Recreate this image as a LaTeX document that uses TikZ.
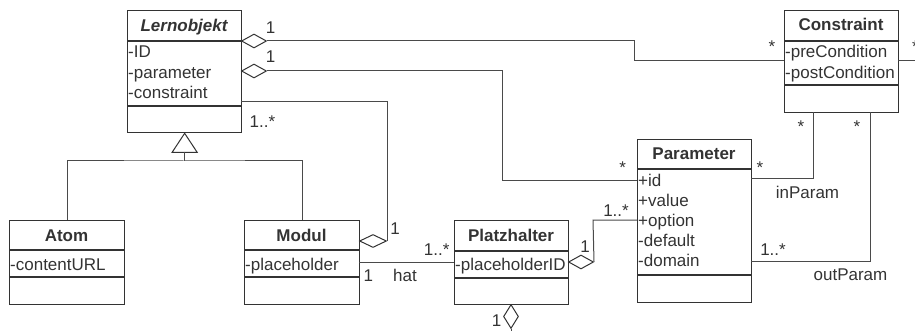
\documentclass[tikz,border=0pt]{standalone}
\usepackage{fontspec}
\setmainfont{Liberation Sans}
\usetikzlibrary{shapes.geometric}
\definecolor{ink}{HTML}{333333}
\definecolor{wire}{HTML}{4A4A4A}
\begin{document}
\begin{tikzpicture}[x=1pt,y=-1pt,
  font=\fontsize{17}{20}\selectfont, text=ink,
  classbox/.style={draw=ink, line width=1.3pt, rectangle, inner sep=0pt, anchor=north west},
  sepline/.style={draw=ink, line width=1.3pt},
  title/.style={font=\fontsize{17}{20}\selectfont\bfseries, anchor=base, inner sep=0pt},
  attr/.style={anchor=base west, inner sep=0pt},
  lbl/.style={anchor=base, inner sep=0pt},
  assoc/.style={draw=wire, line width=1pt},
  aggr/.style={diamond, draw=ink, fill=white, line width=1pt, inner sep=0pt,
    minimum width=25pt, minimum height=14pt},
]
\useasboundingbox (0,0) rectangle (915,331);

% ---------- classes ----------
% Lernobjekt (abstract)
\node[classbox, minimum width=114pt, minimum height=122pt] (lern) at (127,10) {};
\draw[sepline] (127,41) -- (241,41);
\draw[sepline] (127,106) -- (241,106);
\node[title, font=\fontsize{17}{20}\selectfont\bfseries\itshape] (lernT) at (184,31.5) {Lernobjekt};
\node[attr] (lernA1) at (128,58) {-ID};
\node[attr] (lernA2) at (128,78.5) {-parameter};
\node[attr] (lernA3) at (128,99) {-constraint};

% Constraint
\node[classbox, minimum width=114pt, minimum height=102pt] (con) at (784,10) {};
\draw[sepline] (784,41) -- (898,41);
\draw[sepline] (784,85) -- (898,85);
\node[title] (conT) at (841,31) {Constraint};
\node[attr] (conA1) at (785,58) {-preCondition};
\node[attr] (conA2) at (785,78.5) {-postCondition};

% Parameter
\node[classbox, minimum width=114pt, minimum height=163pt] (par) at (637,139) {};
\draw[sepline] (637,169) -- (751,169);
\draw[sepline] (637,275) -- (751,275);
\node[title] (parT) at (694,160) {Parameter};
\node[attr] (parA1) at (638,186.5) {+id};
\node[attr] (parA2) at (638,206.5) {+value};
\node[attr] (parA3) at (638,226.5) {+option};
\node[attr] (parA4) at (638,246.3) {-default};
\node[attr] (parA5) at (638,266) {-domain};

% Atom
\node[classbox, minimum width=115pt, minimum height=84pt] (atom) at (9,220) {};
\draw[sepline] (9,250) -- (124,250);
\draw[sepline] (9,277) -- (124,277);
\node[title] (atomT) at (66.5,241) {Atom};
\node[attr] (atomA1) at (10,270) {-contentURL};

% Modul
\node[classbox, minimum width=115pt, minimum height=84pt] (modul) at (244,220) {};
\draw[sepline] (244,250) -- (359,250);
\draw[sepline] (244,277) -- (359,277);
\node[title] (modT) at (301.5,241) {Modul};
\node[attr] (modA1) at (245,270) {-placeholder};

% Platzhalter
\node[classbox, minimum width=114pt, minimum height=84pt] (platz) at (454,220) {};
\draw[sepline] (454,251) -- (568,251);
\draw[sepline] (454,278) -- (568,278);
\node[title] (platzT) at (511,241.5) {Platzhalter};
\node[attr] (platzA1) at (455,270) {-placeholderID};

% ---------- attachment points on class borders ----------
\coordinate (conPreL)  at (784,61);
\coordinate (conPreR)  at (898,61);
\coordinate (conInB)   at (813,112);
\coordinate (conOutB)  at (870,112);
\coordinate (parIdL)   at (637,181);
\coordinate (parOptL)  at (637,220);
\coordinate (parInR)   at (751,179);
\coordinate (parOutR)  at (751,261);
\coordinate (lernConR) at (241,102);
\coordinate (modHatR)  at (359,262);
\coordinate (platzHatL) at (454,262);
\coordinate (rightEdge) at (915,61);
\coordinate (bottomEdge) at (511,331);

% ---------- aggregation diamonds ----------
\node[aggr, anchor=west] (dLernCon) at (241,41) {};
\node[aggr, anchor=west] (dLernPar) at (241,71) {};
\node[aggr, anchor=west, minimum width=27pt, minimum height=13pt] (dModul) at (359,241) {};
\node[aggr, anchor=west] (dPlatzPar) at (568,262) {};
\node[aggr, anchor=north, minimum width=15pt, minimum height=24pt] (dPlatzBot) at (511,304) {};

% ---------- generalisation ----------
\coordinate (genBase) at (184,152);
\coordinate (genJoin) at (184,161);
\draw[draw=ink, line width=1pt, fill=white] (lern.south) -- ++(-12.5,19) -- ++(25,0) -- cycle;
\draw[assoc] (genBase) -- (genJoin);
\draw[assoc] (atom.north) |- (genJoin) -| (modul.north);

% ---------- associations ----------
\draw[assoc] (dLernCon.east) -- (634,41) -- (634,61) -- (conPreL);
\draw[assoc] (dLernPar.east) -- (502,71) -- (502,181) -- (parIdL);
\draw[assoc] (lernConR) -- (387,102) -- (387,241) -- (dModul.east);
\draw[assoc] (modHatR) -- (platzHatL);
\draw[assoc] (dPlatzPar.east) -- (593,220) -- (parOptL);
\draw[assoc] (dPlatzBot.south) -- (bottomEdge);
\draw[assoc] (parInR) -- (813,179) -- (conInB);
\draw[assoc] (parOutR) -- (870,261) -- (conOutB);
\draw[assoc] (conPreR) -- (rightEdge);

% ---------- multiplicities and role names ----------
\node[lbl] (m1) at (270.7,33.3) {1};
\node[lbl] (m2) at (270.7,63) {1};
\node[lbl] (m3) at (262.5,127.5) {1..*};
\node[lbl] (m4) at (772,52.5) {*};
\node[attr] (m5) at (912,52.5) {*};
\node[lbl] (m6) at (801,133) {*};
\node[lbl] (m7) at (857,133) {*};
\node[lbl] (m8) at (622.7,174) {*};
\node[lbl] (m9) at (760,174) {*};
\node[lbl] (r1) at (807.5,199) {inParam};
\node[lbl] (m10) at (773,255) {1..*};
\node[lbl] (r2) at (850.5,280) {outParam};
\node[lbl] (m11) at (616,216.7) {1..*};
\node[lbl] (m12) at (585,252.3) {1};
\node[lbl] (m13) at (496.7,326.7) {1};
\node[lbl] (m14) at (436.7,255.7) {1..*};
\node[lbl] (m15) at (368.3,281.7) {1};
\node[lbl] (r3) at (405,281.7) {hat};
\node[lbl] (m16) at (395,234) {1};
\end{tikzpicture}
\end{document}
